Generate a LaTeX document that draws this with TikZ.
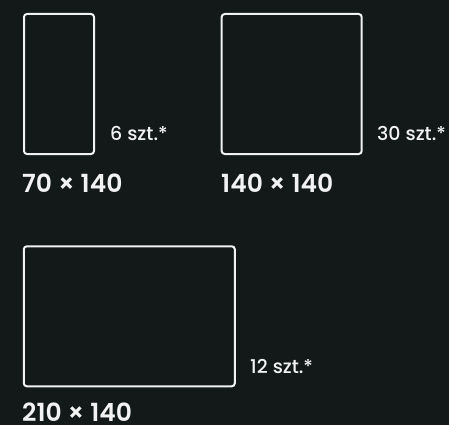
\documentclass[tikz,border=0pt]{standalone}
\usepackage{fontspec}
\setmainfont{Poppins}
\newfontfamily\dimfont{Poppins SemiBold}
\newfontfamily\qtyfont{Poppins Medium}
\usepackage{tikz}
\usetikzlibrary{positioning}
\definecolor{bgdark}{HTML}{131819}
\definecolor{lineclr}{HTML}{F2F2F2}

\begin{document}
\begin{tikzpicture}[
  x=1pt, y=-1pt,
  tile/.style={draw=lineclr, line width=2pt, rounded corners=3pt, inner sep=0pt},
  qty/.style={text=lineclr, inner sep=0pt, anchor=base west, font=\qtyfont\fontsize{19}{19}\selectfont},
  dim/.style={text=lineclr, inner sep=0pt, anchor=base west, font=\dimfont\fontsize{25}{25}\selectfont},
]
\fill[bgdark] (0,0) rectangle (449,425);
\useasboundingbox (0,0) rectangle (449,425);

\node[tile, minimum width=70pt, minimum height=140pt] (t1) at (59,84) {};
\node[tile, minimum width=140pt, minimum height=140pt] (t2) at (291.7,84) {};
\node[tile, minimum width=211pt, minimum height=140pt] (t3) at (129.3,316.3) {};

% counts and sizes
\node[qty] (q1) at (110,140) {6 szt.*};
\node[qty] (q2) at (377,140) {30 szt.*};
\node[qty] (q3) at (250,373) {12 szt.*};

\node[dim] (d1) at (22,192) {70 × 140};
\node[dim] (d2) at (221,192) {140 × 140};
\node[dim] (d3) at (22,421.5) {210 × 140};

\end{tikzpicture}
\end{document}
